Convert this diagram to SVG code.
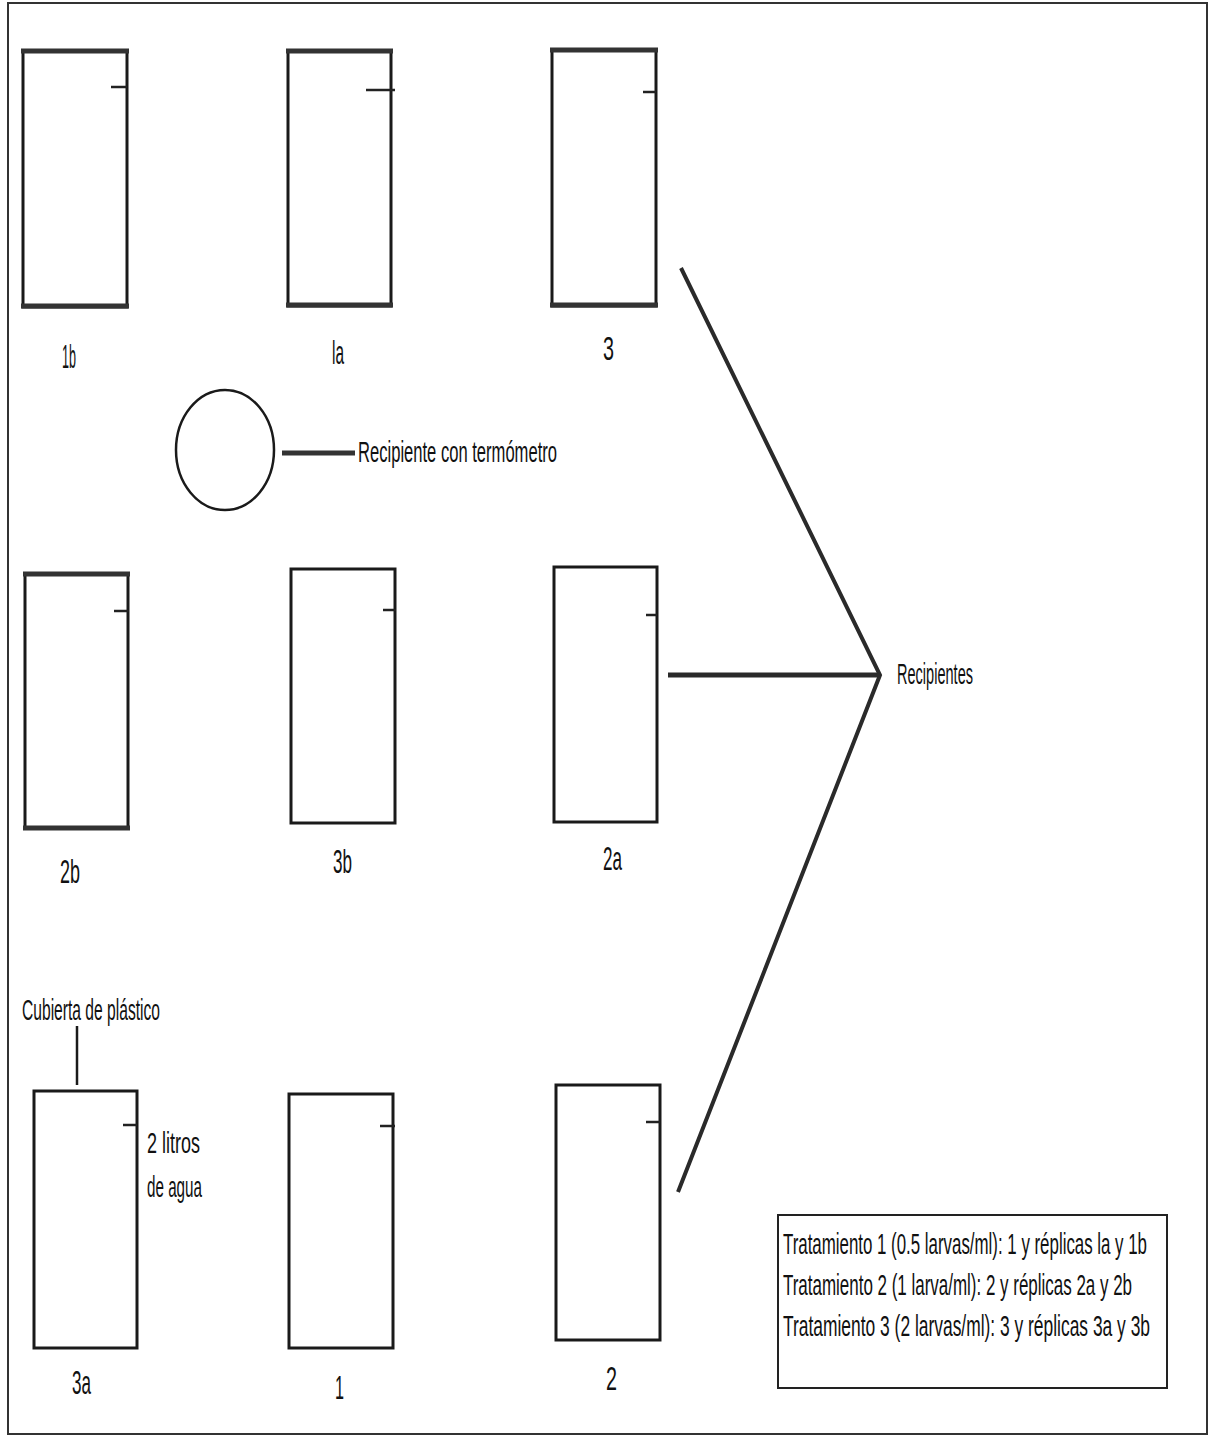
<svg xmlns="http://www.w3.org/2000/svg" width="1209" height="1437" viewBox="0 0 1209 1437">
  <style>
    .frame { fill: none; stroke: #333; stroke-width: 2; }
    .tank { fill: #fff; stroke: #1a1a1a; stroke-width: 3; }
    .rim { stroke: #333; stroke-width: 5; }
    .mark { stroke: #222; stroke-width: 2.5; }
    .lbl { font-family: "Liberation Sans", Arial, sans-serif; fill: #111; }
    .num { font-size: 34px; }
    .note { font-size: 30px; }
    .legend { font-size: 30px; }
    .wire { fill: none; stroke: #2a2a2a; stroke-linecap: butt; stroke-linejoin: miter; }
  </style>

  <rect id="page-frame" class="frame" x="8" y="3" width="1199" height="1431"/>

  <!-- Row 1 -->
  <g id="tank-1b">
    <rect class="tank" x="23" y="51" width="104" height="256"/>
    <line class="rim" x1="21" y1="51" x2="129" y2="51"/>
    <line class="rim" x1="21" y1="306" x2="129" y2="306"/>
    <line class="mark" x1="111" y1="87" x2="127" y2="87"/>
    <text class="lbl num" x="62" y="368" textLength="14" lengthAdjust="spacingAndGlyphs">1b</text>
  </g>
  <g id="tank-1a">
    <rect class="tank" x="288" y="51" width="103" height="255"/>
    <line class="rim" x1="286" y1="51" x2="393" y2="51"/>
    <line class="rim" x1="286" y1="305" x2="393" y2="305"/>
    <line class="mark" x1="366" y1="90" x2="395" y2="90"/>
    <text class="lbl num" x="332" y="364" textLength="12" lengthAdjust="spacingAndGlyphs">la</text>
  </g>
  <g id="tank-3">
    <rect class="tank" x="552" y="50" width="104" height="256"/>
    <line class="rim" x1="550" y1="50" x2="658" y2="50"/>
    <line class="rim" x1="550" y1="305" x2="658" y2="305"/>
    <line class="mark" x1="643" y1="92" x2="656" y2="92"/>
    <text class="lbl num" x="603" y="360" textLength="11" lengthAdjust="spacingAndGlyphs">3</text>
  </g>

  <!-- Thermometer vessel -->
  <g id="thermo-vessel">
    <ellipse cx="225" cy="450" rx="49" ry="60" fill="#fff" stroke="#1a1a1a" stroke-width="2.5"/>
    <line x1="282" y1="453" x2="355" y2="453" stroke="#333" stroke-width="5"/>
    <text class="lbl note" font-size="33" x="358" y="462" textLength="199" lengthAdjust="spacingAndGlyphs">Recipiente con termómetro</text>
  </g>

  <!-- Row 2 -->
  <g id="tank-2b">
    <rect class="tank" x="25" y="574" width="103" height="254"/>
    <line class="rim" x1="23" y1="574" x2="130" y2="574"/>
    <line class="rim" x1="23" y1="828" x2="130" y2="828"/>
    <line class="mark" x1="114" y1="611" x2="129" y2="611"/>
    <text class="lbl num" x="60" y="883" textLength="20" lengthAdjust="spacingAndGlyphs">2b</text>
  </g>
  <g id="tank-3b">
    <rect class="tank" x="291" y="569" width="104" height="254"/>
    <line class="mark" x1="383" y1="610" x2="396" y2="610"/>
    <text class="lbl num" x="333" y="873" textLength="19" lengthAdjust="spacingAndGlyphs">3b</text>
  </g>
  <g id="tank-2a">
    <rect class="tank" x="554" y="567" width="103" height="255"/>
    <line class="mark" x1="646" y1="615" x2="657" y2="615"/>
    <text class="lbl num" x="603" y="870" textLength="19" lengthAdjust="spacingAndGlyphs">2a</text>
  </g>

  <!-- Row 3 -->
  <g id="tank-3a">
    <rect class="tank" x="34" y="1091" width="103" height="257"/>
    <line class="mark" x1="123" y1="1125" x2="137" y2="1125"/>
    <text class="lbl num" x="72" y="1394" textLength="19" lengthAdjust="spacingAndGlyphs">3a</text>
  </g>
  <g id="cover-callout">
    <line x1="77" y1="1026" x2="77" y2="1085" stroke="#1a1a1a" stroke-width="2.5"/>
    <text class="lbl note" font-size="28" x="22" y="1020" textLength="138" lengthAdjust="spacingAndGlyphs">Cubierta de plástico</text>
  </g>
  <g id="water-callout">
    <text class="lbl note" font-size="31" x="147" y="1153" textLength="53" lengthAdjust="spacingAndGlyphs">2 litros</text>
    <text class="lbl note" font-size="31" x="147" y="1197" textLength="55" lengthAdjust="spacingAndGlyphs">de agua</text>
  </g>
  <g id="tank-1">
    <rect class="tank" x="289" y="1094" width="104" height="254"/>
    <line class="mark" x1="380" y1="1126" x2="395" y2="1126"/>
    <text class="lbl num" x="335" y="1399" textLength="9" lengthAdjust="spacingAndGlyphs">1</text>
  </g>
  <g id="tank-2">
    <rect class="tank" x="556" y="1085" width="104" height="255"/>
    <line class="mark" x1="646" y1="1122" x2="660" y2="1122"/>
    <text class="lbl num" x="606" y="1390" textLength="11" lengthAdjust="spacingAndGlyphs">2</text>
  </g>

  <!-- Bracket gathering the tanks -->
  <g id="connectors">
    <polyline class="wire" points="681,268 880,675 678,1192" stroke-width="4"/>
    <line class="wire" x1="668" y1="675" x2="880" y2="675" stroke-width="5"/>
  </g>
  <g id="tanks-label">
    <text class="lbl note" font-size="29" x="897" y="684" textLength="76" lengthAdjust="spacingAndGlyphs">Recipientes</text>
  </g>

  <!-- Treatment legend -->
  <g id="legend">
    <rect x="778" y="1215" width="389" height="173" fill="#fff" stroke="#222" stroke-width="2"/>
    <text class="lbl legend" transform="translate(783 1254) scale(0.5 1)" textLength="728" lengthAdjust="spacingAndGlyphs">Tratamiento 1 (0.5 larvas/ml): 1 y réplicas la y 1b</text>
    <text class="lbl legend" transform="translate(783 1295) scale(0.5 1)" textLength="698" lengthAdjust="spacingAndGlyphs">Tratamiento 2 (1 larva/ml): 2 y réplicas 2a y 2b</text>
    <text class="lbl legend" transform="translate(783 1336) scale(0.5 1)" textLength="734" lengthAdjust="spacingAndGlyphs">Tratamiento 3 (2 larvas/ml): 3 y réplicas 3a y 3b</text>
  </g>
</svg>
